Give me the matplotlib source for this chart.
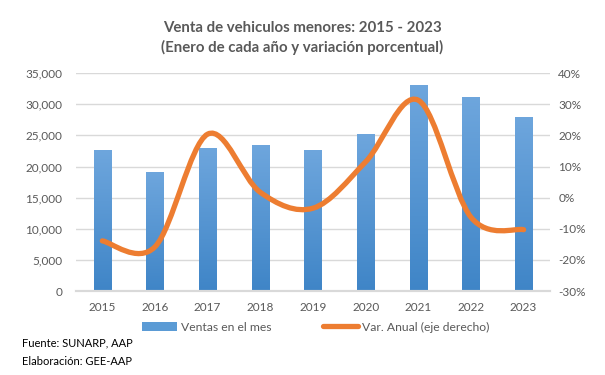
"""Venta de vehiculos menores 2015-2023: bars (units) + smoothed YoY line."""
import numpy as np
import matplotlib
matplotlib.use("Agg")
import matplotlib.pyplot as plt
from matplotlib.path import Path
from matplotlib.patches import PathPatch, Patch
from matplotlib.lines import Line2D
from matplotlib.ticker import FuncFormatter, MultipleLocator

years = ["2015", "2016", "2017", "2018", "2019", "2020", "2021", "2022", "2023"]
ventas = [22600, 19100, 23000, 23400, 22600, 25200, 33100, 31100, 27900]
var_anual = [-13.9, -15.8, 20.4, 1.7, -3.4, 11.5, 31.3, -6.3, -10.3]

plt.rcParams["font.family"] = ["Lato", "DejaVu Sans"]
BLUE_TOP, BLUE_BOT = "#6ea6dd", "#3f85c7"
ORANGE = "#ed7d31"
GRID = "#d9d9d9"
TXT = "#595959"

fig = plt.figure(figsize=(6.05, 3.75), dpi=100)
ax = fig.add_axes([0.1256, 0.224, 0.7834, 0.581])
ax2 = ax.twinx()

x = np.arange(len(years))
bars = ax.bar(x, ventas, width=0.33, color=BLUE_BOT, zorder=2)
# vertical gradient inside each bar, like the Excel fill
grad = np.linspace(1, 0, 256).reshape(-1, 1)
cmap = matplotlib.colors.LinearSegmentedColormap.from_list("b", [BLUE_BOT, BLUE_TOP])
for b in bars:
    x0, w, h = b.get_x(), b.get_width(), b.get_height()
    im = ax.imshow(grad, extent=(x0, x0 + w, 0, h), aspect="auto", cmap=cmap,
                   zorder=2.1, interpolation="bilinear")
    im.set_clip_path(b)

ax.set_xlim(-0.5, len(years) - 0.5)
ax.set_ylim(0, 35000)
ax.yaxis.set_major_locator(MultipleLocator(5000))
ax.yaxis.set_major_formatter(FuncFormatter(lambda v, p: f"{v:,.0f}"))
ax.set_xticks(x)
ax.set_xticklabels(years)
ax.grid(axis="y", color=GRID, linewidth=1, zorder=0)
ax.set_axisbelow(True)

# smoothed line (Catmull-Rom style Bezier through the data points)
pts = np.column_stack([x, var_anual]).astype(float)
verts = [tuple(pts[0])]
codes = [Path.MOVETO]
n = len(pts)
for i in range(n - 1):
    p0 = pts[i - 1] if i > 0 else pts[i]
    p3 = pts[i + 2] if i + 2 < n else pts[i + 1]
    c1 = pts[i] + (pts[i + 1] - p0) / 6.0
    c2 = pts[i + 1] - (p3 - pts[i]) / 6.0
    verts += [tuple(c1), tuple(c2), tuple(pts[i + 1])]
    codes += [Path.CURVE4] * 3
ax2.add_patch(PathPatch(Path(verts, codes), facecolor="none", edgecolor=ORANGE,
                        linewidth=3.8, capstyle="round", joinstyle="round", zorder=3))
ax2.set_ylim(-30, 40)
ax2.yaxis.set_major_locator(MultipleLocator(10))
ax2.yaxis.set_major_formatter(FuncFormatter(lambda v, p: f"{v:.0f}%"))

for a in (ax, ax2):
    for s in ("top", "left", "right"):
        a.spines[s].set_visible(False)
    a.spines["bottom"].set_color(GRID)
    a.spines["bottom"].set_linewidth(1.5)
    a.tick_params(length=0, labelsize=8.5, labelcolor=TXT)
ax.tick_params(axis="y", pad=10)
ax.tick_params(axis="x", pad=8)
ax2.tick_params(axis="y", pad=6)

fig.text(0.5, 0.925, "Venta de vehiculos menores: 2015 - 2023", ha="center",
         va="center", fontsize=10.8, fontweight="bold", color=TXT)
fig.text(0.5, 0.873, "(Enero de cada año y variación porcentual)", ha="center",
         va="center", fontsize=10.8, fontweight="bold", color=TXT)

handles = [Patch(facecolor="#5b9bd5"),
           Line2D([], [], color=ORANGE, linewidth=3.8, solid_capstyle="round")]
fig.legend(handles, ["Ventas en el mes", "Var. Anual (eje derecho)"], ncol=2,
           loc="center", bbox_to_anchor=(0.522, 0.128), frameon=False,
           fontsize=8.7, labelcolor=TXT, handlelength=2.9, handletextpad=0.3,
           columnspacing=4.3)

fig.text(0.036, 0.085, "Fuente: SUNARP, AAP", fontsize=8, va="center")
fig.text(0.036, 0.035, "Elaboración: GEE-AAP", fontsize=8, va="center")

fig.savefig("out.png", dpi=100)
